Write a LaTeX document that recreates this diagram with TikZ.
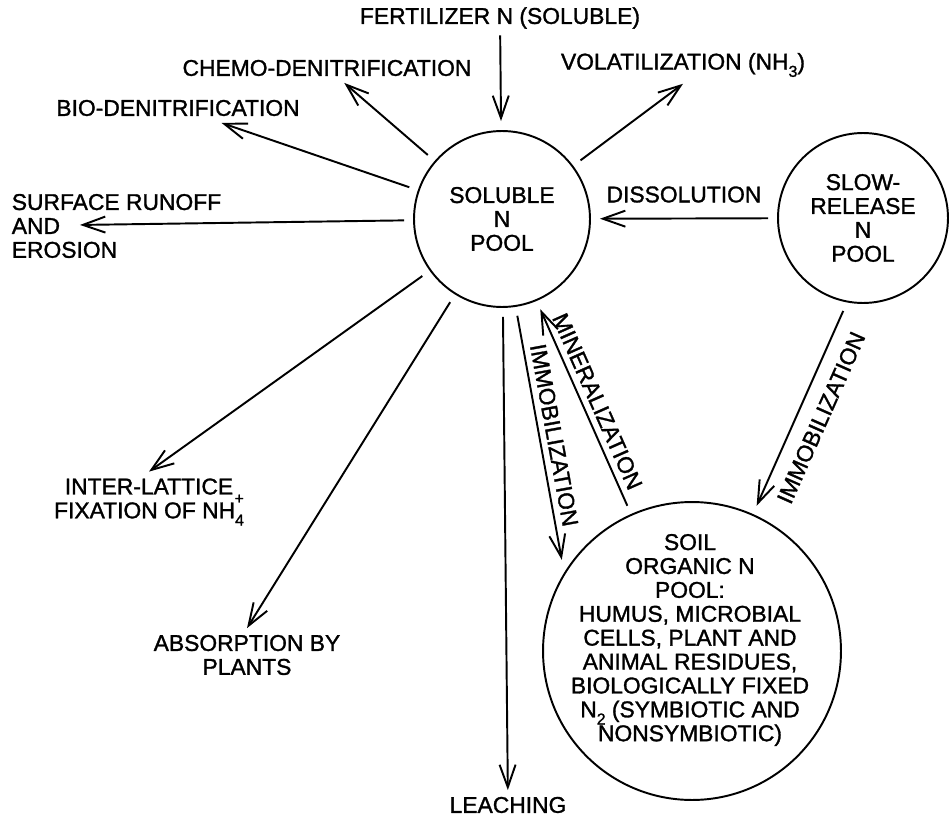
\documentclass[tikz,border=0pt]{standalone}
\usepackage{fontspec}
\setmainfont[FakeBold=1.3]{Liberation Sans}
\usetikzlibrary{arrows.meta}
\newcommand\lsub[1]{\raisebox{-0.6ex}{\small #1}}
\newcommand\ionsub[2]{\raisebox{-0.6ex}{\small #1}\llap{\raisebox{1.2ex}{\small #2}}}

\begin{document}
\begin{tikzpicture}[x=0.02cm,y=-0.02cm,line width=1.1pt,
		>={Straight Barb[length=4.5mm,width=3.2mm]},
		font=\fontsize{13}{13.6}\selectfont]
		\tikzset{
			pool/.style={circle,draw,align=center,outer sep=0.2cm},
			flow/.style={align=center}
		}
		\useasboundingbox (0,0) rectangle (951,818);
		% pools
		\node(sol)[pool,minimum size=3.52cm] at (502,219) {SOLUBLE\\N\\POOL};
		\node(slow)[pool,minimum size=3.4cm] at (863,218) {SLOW-\\RELEASE\\N\\POOL};
		\node(soil)[pool,minimum size=5.96cm] at (692,651) {};
		\node(soiltxt)[flow] at (690,640) {SOIL\\ORGANIC N\\POOL:\\HUMUS, MICROBIAL\\
			CELLS, PLANT AND\\ANIMAL RESIDUES,\\BIOLOGICALLY FIXED\\
			N\lsub{2} (SYMBIOTIC AND\\NONSYMBIOTIC)};
		% inputs and losses
		\node(fert) at (500,18) {FERTILIZER N (SOLUBLE)};
		\node(chemo) at (327,68) {CHEMO-DENITRIFICATION};
		\node(biodn) at (178,108) {BIO-DENITRIFICATION};
		\node(volat) at (683,65) {VOLATILIZATION (NH\lsub{3})};
		\node(runoff)[align=left,anchor=west] at (5,226) {SURFACE RUNOFF\\AND\\EROSION};
		\node(interl)[flow] at (149,502) {INTER-LATTICE\\FIXATION OF NH\ionsub{4}{+}};
		\node(absorb)[flow] at (247,655) {ABSORPTION BY\\PLANTS};
		\node(leach) at (508,805) {LEACHING};
		\draw (fert) [->] -- (sol);
		\draw (sol) [->] -- (chemo);
		\draw (sol) [->] -- (biodn);
		\draw (sol) [->] -- (volat.south);
		\draw (sol) [->,shorten >=1.5cm] -- (runoff.west);
		\draw (sol) [->] -- (interl.north);
		\draw (sol) [->] -- (absorb.north);
		\draw (sol) [->] -- (leach);
		\draw (slow) [->] -- node[above,inner ysep=8.5pt]{DISSOLUTION} (sol);
		\draw (sol.-81) [->] -- node[sloped,above]{IMMOBILIZATION} (soil.145);
		\draw (sol.-67) [<-] -- node[sloped,above]{MINERALIZATION} (soil.114);
		\draw (slow.-102) [->] -- node[sloped,below,inner ysep=8pt]{IMMOBILIZATION} (soil.66);
\end{tikzpicture}
\end{document}
